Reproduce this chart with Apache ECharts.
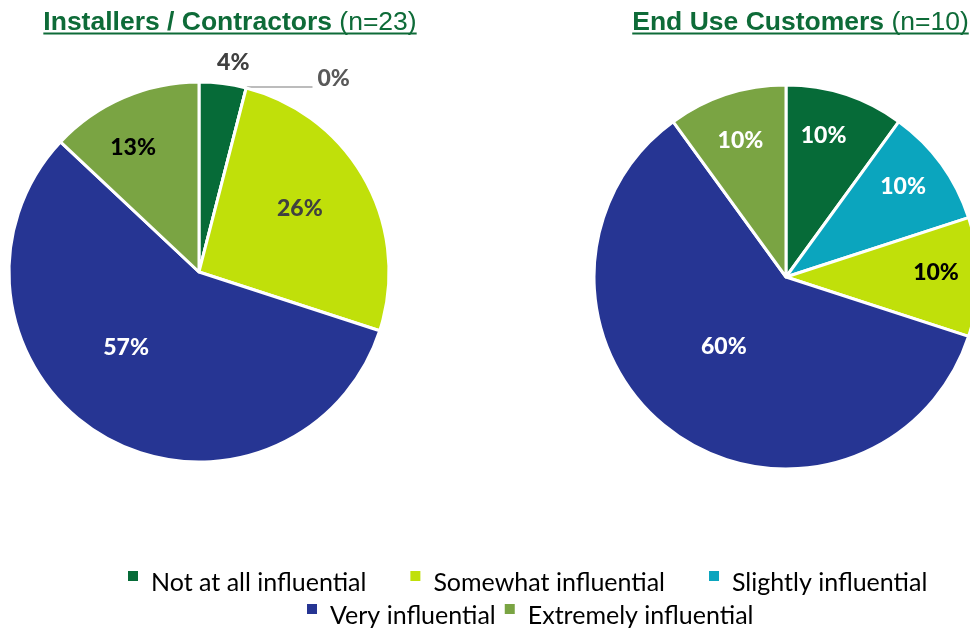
<!DOCTYPE html>
<html><head><meta charset="utf-8">
<script src="https://cdn.jsdelivr.net/npm/echarts@6/dist/echarts.min.js"></script>
<style>html,body{margin:0;padding:0;background:#fff}#c{width:970px;height:630px}</style>
</head><body><div id="c"></div>
<script>
// ---- data ----
const categories = ['Not at all influential', 'Slightly influential', 'Somewhat influential', 'Very influential', 'Extremely influential'];
const legendRow1 = ['Not at all influential', 'Somewhat influential', 'Slightly influential'];
const legendRow2 = ['Very influential', 'Extremely influential'];
const installersPct = [4, 0, 26, 57, 13];
const customersPct = [10, 10, 10, 60, 10];
const installersTitle = 'Installers / Contractors ';
const installersN = '(n=23)';
const customersTitle = 'End Use Customers ';
const customersN = '(n=10)';

// ---- styles ----
const colors = ['#066B38', '#0BA5BE', '#C0E00A', '#263593', '#7AA443'];
const titleColor = '#0E6B38';
const labelFont = 'Lato';

function pieSeries(name, values, center, radius, labelColors, nudges, outsideIdx) {
  return {
    type: 'pie', name: name, center: center, radius: radius,
    startAngle: 90, clockwise: true, percentPrecision: 0,
    avoidLabelOverlap: false, animation: false,
    emphasis: { disabled: true },
    itemStyle: { borderColor: '#fff', borderWidth: 3 },
    label: { show: true, position: 'inside', formatter: '{c}%', fontFamily: labelFont, fontWeight: 900, fontSize: 23 },
    labelLine: { show: false },
    labelLayout: function (p) { const n = nudges[p.dataIndex] || [0, 0]; return { dx: n[0], dy: n[1] }; },
    data: categories.map(function (c, i) {
      const d = { name: c, value: values[i], itemStyle: { color: colors[i] }, label: { color: labelColors[i] } };
      if (i === outsideIdx) {
        d.label.position = 'outside';
        d.labelLine = { show: true, length: 1, length2: 66, lineStyle: { color: '#A6A6A6', width: 1.5 } };
      }
      return d;
    })
  };
}

function measure(text, font) {
  const ctx = document.createElement('canvas').getContext('2d');
  ctx.font = font;
  return ctx.measureText(text).width;
}

function titleGraphic(boldText, normalText, cx) {
  const fb = 'bold 26.5px "Liberation Sans"';
  const fn = '26.5px "Liberation Sans"';
  const w1 = measure(boldText, fb), w2 = measure(normalText, fn);
  const x0 = cx - (w1 + w2) / 2;
  return [
    { type: 'text', x: x0, y: 22.5, style: { text: boldText, font: fb, fill: titleColor, textAlign: 'left', textVerticalAlign: 'middle' } },
    { type: 'text', x: x0 + w1, y: 22.5, style: { text: normalText, font: fn, fill: titleColor, textAlign: 'left', textVerticalAlign: 'middle' } },
    { type: 'rect', shape: { x: x0, y: 32.5, width: w1 + w2, height: 2 }, style: { fill: titleColor } }
  ];
}

const legendCommon = {
  orient: 'horizontal', selectedMode: false, padding: 0,
  icon: 'path://M0,0H10V10H0Z M0,23H0.01V23.01H0Z',
  itemWidth: 10, itemHeight: 23,
  itemStyle: { borderWidth: 0 },
  textStyle: { fontFamily: labelFont, fontSize: 25, color: '#000', padding: [0, 0, 0, 8] }
};

const chart = echarts.init(document.getElementById('c'), null, { renderer: 'canvas' });
chart.setOption({
  backgroundColor: '#fff',
  animation: false,
  graphic: titleGraphic(installersTitle, installersN, 230).concat(titleGraphic(customersTitle, customersN, 800.5)),
  legend: [
    Object.assign({}, legendCommon, { data: legendRow1, left: 128, top: 570, itemGap: 44 }),
    Object.assign({}, legendCommon, { data: legendRow2, left: 307, top: 603, itemGap: 9 })
  ],
  series: [
    pieSeries('Installers / Contractors', installersPct, [199, 272], 190,
      ['#404040', '#595959', '#404040', '#FFFFFF', '#000000'],
      [[22, -112], [0, -8], [15, -16], [-23, -9], [-27, -34]], 1),
    pieSeries('End Use Customers', customersPct, [786, 277], 192,
      ['#FFFFFF', '#FFFFFF', '#000000', '#FFFFFF', '#FFFFFF'],
      [[7, -47], [37, -32], [51, -4], [-4, -11], [-15, -42]], -1)
  ]
});
</script>
</body></html>
